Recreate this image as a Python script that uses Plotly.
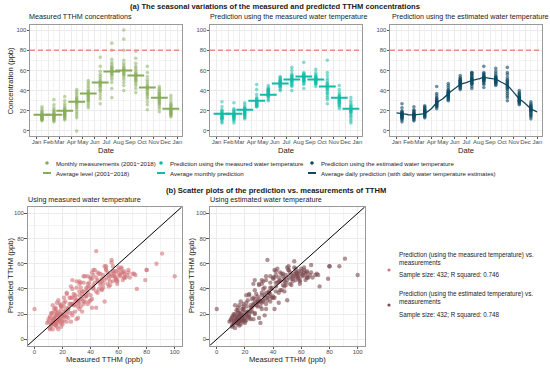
import plotly.graph_objects as go

W, H = 550, 369
FONT = "Liberation Sans, Arial, sans-serif"

MONTHS = ["Jan", "Feb", "Mar", "Apr", "May", "Jun", "Jul", "Aug", "Sep", "Oct", "Nov", "Dec"]
MID_DATES = ["2018-%02d-15" % m for m in range(1, 13)]
TICK_DATES = ["2018-%02d-01" % m for m in range(1, 13)] + ["2019-01-01"]
TICK_TEXT = MONTHS + ["Jan"]
X_DATE_RANGE = ["2017-12-15", "2019-01-12"]
LIMITS = [-5, 105]
THRESHOLD = 80

# Monthly measured TTHM (ppb), one list per month
measured = [
    [10, 11, 11, 12, 12, 13, 13, 14, 14, 15, 15, 15, 16, 16, 17, 18, 19, 20, 22, 24],
    [9, 10, 11, 12, 12, 13, 14, 14, 15, 15, 16, 16, 17, 18, 19, 20, 21, 23, 26, 31],
    [11, 12, 13, 14, 15, 15, 16, 17, 17, 18, 19, 19, 20, 21, 22, 23, 25, 27, 30, 34],
    [0, 13, 15, 17, 19, 21, 23, 24, 26, 27, 28, 29, 30, 31, 32, 33, 35, 37, 39, 41],
    [23, 25, 27, 29, 30, 31, 32, 33, 34, 35, 36, 37, 38, 39, 40, 42, 44, 46, 48, 50],
    [27, 32, 35, 38, 40, 41, 43, 44, 45, 46, 47, 48, 49, 50, 52, 54, 56, 59, 64, 73],
    [33, 42, 48, 51, 53, 55, 56, 57, 58, 59, 60, 61, 62, 63, 64, 66, 68, 71, 80, 87],
    [40, 45, 48, 51, 53, 55, 56, 57, 58, 59, 60, 61, 62, 63, 65, 67, 70, 80, 91, 100],
    [38, 42, 45, 47, 49, 50, 51, 52, 53, 54, 55, 56, 57, 58, 60, 62, 64, 67, 72, 79],
    [21, 26, 29, 32, 34, 36, 37, 38, 40, 41, 42, 43, 44, 45, 47, 49, 51, 54, 58, 64],
    [19, 22, 24, 26, 27, 28, 29, 30, 31, 32, 33, 34, 35, 36, 37, 38, 39, 41, 42, 44],
    [14, 15, 16, 17, 17, 18, 19, 19, 20, 21, 21, 22, 23, 24, 25, 26, 27, 29, 32, 35],
]
# Predictions using the measured water temperature (paired with measured)
pred_meas_temp = [
    [14, 9, 17, 12, 21, 8, 15, 13, 24, 16, 11, 19, 14, 29, 13, 16, 20, 12, 18, 17],
    [13, 16, 8, 20, 11, 15, 17, 12, 22, 14, 19, 10, 16, 28, 13, 18, 15, 21, 14, 17],
    [18, 13, 21, 16, 24, 12, 19, 22, 15, 20, 17, 26, 14, 19, 23, 18, 28, 21, 16, 22],
    [24, 27, 25, 31, 26, 29, 36, 24, 28, 33, 27, 30, 46, 26, 29, 32, 28, 41, 30, 25],
    [37, 33, 40, 35, 41, 31, 38, 41, 36, 45, 34, 39, 37, 42, 35, 43, 38, 40, 39, 30],
    [47, 44, 50, 41, 48, 53, 45, 49, 46, 52, 43, 48, 51, 47, 44, 50, 54, 46, 49, 40],
    [45, 51, 40, 55, 48, 63, 46, 52, 49, 44, 57, 50, 53, 47, 54, 51, 49, 52, 55, 60],
    [49, 53, 46, 56, 42, 52, 58, 50, 54, 47, 55, 51, 57, 53, 49, 55, 52, 55, 68, 50],
    [50, 55, 47, 52, 44, 58, 49, 53, 51, 46, 61, 50, 54, 48, 52, 56, 49, 53, 51, 47],
    [33, 42, 27, 46, 38, 50, 35, 44, 31, 48, 40, 55, 70, 37, 45, 41, 58, 43, 47, 52],
    [27, 30, 24, 33, 28, 36, 22, 31, 29, 35, 26, 32, 38, 30, 34, 28, 45, 32, 41, 25],
    [17, 12, 21, 8, 19, 15, 23, 10, 20, 26, 18, 22, 14, 25, 21, 28, 19, 33, 24, 30],
]
# Predictions using the estimated water temperature (paired with measured)
pred_est_temp = [
    [15, 11, 17, 13, 20, 9, 16, 14, 23, 16, 12, 18, 15, 27, 14, 17, 19, 13, 18, 16],
    [14, 16, 10, 19, 12, 15, 17, 13, 21, 15, 18, 11, 16, 24, 14, 17, 15, 20, 16, 13],
    [18, 14, 20, 16, 23, 13, 19, 21, 15, 19, 17, 24, 15, 20, 22, 18, 25, 21, 17, 19],
    [24, 27, 25, 30, 26, 29, 35, 22, 28, 32, 27, 30, 44, 26, 29, 31, 28, 37, 33, 24],
    [36, 32, 39, 34, 43, 30, 37, 40, 35, 47, 33, 38, 36, 41, 34, 45, 37, 39, 38, 31],
    [47, 44, 50, 41, 48, 55, 45, 49, 46, 52, 43, 48, 51, 47, 44, 50, 53, 46, 49, 42],
    [46, 51, 42, 55, 48, 57, 47, 52, 49, 44, 56, 50, 53, 47, 54, 51, 49, 52, 58, 58],
    [49, 53, 46, 55, 43, 52, 56, 50, 54, 47, 54, 51, 57, 52, 49, 53, 51, 58, 64, 51],
    [50, 54, 47, 52, 45, 57, 49, 53, 51, 46, 62, 50, 53, 48, 52, 55, 49, 59, 51, 48],
    [35, 44, 30, 47, 41, 63, 37, 45, 33, 49, 42, 56, 46, 39, 50, 43, 58, 48, 51, 53],
    [28, 31, 27, 33, 29, 36, 26, 32, 30, 35, 30, 33, 37, 31, 34, 30, 40, 33, 38, 29],
    [18, 14, 21, 12, 20, 16, 23, 15, 21, 26, 19, 22, 17, 25, 22, 27, 20, 29, 24, 24],
]
avg_measured = [16, 16, 20, 29, 37, 48, 59, 60, 55, 43, 33, 22]
avg_monthly_pred = [17, 17, 21, 30, 36, 47, 51, 54, 51, 44, 33, 22]
daily_dates = ["2018-01-01", "2018-01-10", "2018-01-20", "2018-02-01", "2018-02-15",
               "2018-03-01", "2018-03-15", "2018-04-01", "2018-04-15", "2018-05-01",
               "2018-05-15", "2018-06-01", "2018-06-15", "2018-07-01", "2018-07-15",
               "2018-08-01", "2018-08-15", "2018-09-01", "2018-09-15", "2018-10-01",
               "2018-10-15", "2018-11-01", "2018-11-15", "2018-12-01", "2018-12-15",
               "2018-12-31"]
daily_pred = [18, 17.5, 17, 16, 16, 16.5, 17.5, 22, 28, 32, 37, 42, 46, 48, 50,
              51.5, 53, 52, 51, 48, 45, 38, 32, 27, 22, 19]

GREEN = "#86AC57"
CYAN = "#10BBA8"
NAVY = "#0D4A62"
PINK = "#D0757A"
BROWN = "#7C4A50"
RED = "#F08A84"
TXT = "#1A1A1A"


def px(x):
    return x / W


def py(y):
    return 1 - y / H


def flat(groups):
    xs, ys = [], []
    for d, g in zip(MID_DATES, groups):
        xs.extend([d] * len(g))
        ys.extend(g)
    return xs, ys


mx, my = flat(measured)
_, p1 = flat(pred_meas_temp)
_, p2 = flat(pred_est_temp)

fig = go.Figure()
pt = dict(size=3.6, opacity=0.5, line=dict(width=0))
bar = dict(symbol="line-ew", size=12)

# Panel 1
fig.add_trace(go.Scatter(x=mx, y=my, mode="markers", marker=dict(color=GREEN, **pt),
                         xaxis="x", yaxis="y"))
fig.add_trace(go.Scatter(x=MID_DATES, y=avg_measured, mode="markers",
                         marker=dict(line=dict(width=2, color=GREEN), **bar),
                         xaxis="x", yaxis="y"))
# Panel 2
fig.add_trace(go.Scatter(x=mx, y=p1, mode="markers", marker=dict(color=CYAN, **pt),
                         xaxis="x2", yaxis="y2"))
fig.add_trace(go.Scatter(x=MID_DATES, y=avg_monthly_pred, mode="markers",
                         marker=dict(line=dict(width=2, color=CYAN), **bar),
                         xaxis="x2", yaxis="y2"))
# Panel 3
fig.add_trace(go.Scatter(x=mx, y=p2, mode="markers",
                         marker=dict(color=NAVY, size=3.6, opacity=0.6, line=dict(width=0)),
                         xaxis="x3", yaxis="y3"))
fig.add_trace(go.Scatter(x=daily_dates, y=daily_pred, mode="lines",
                         line=dict(color=NAVY, width=1.3, shape="spline"),
                         xaxis="x3", yaxis="y3"))
# Scatter panels
fig.add_trace(go.Scatter(x=my, y=p1, mode="markers",
                         marker=dict(color=PINK, size=4.4, opacity=0.6, line=dict(width=0)),
                         xaxis="x4", yaxis="y4"))
fig.add_trace(go.Scatter(x=my, y=p2, mode="markers",
                         marker=dict(color=BROWN, size=4.4, opacity=0.6, line=dict(width=0)),
                         xaxis="x5", yaxis="y5"))

tick_font = dict(family=FONT, size=6, color="#4D4D4D")
common = dict(showline=True, mirror=True, linecolor="#9A9A9A", linewidth=0.8,
              ticks="outside", ticklen=2.5, tickwidth=0.7, tickcolor="#555555",
              showgrid=True, gridcolor="#EBEBEB", gridwidth=0.8, zeroline=False,
              tickfont=tick_font, tickangle=0)


def date_x(domain, anchor):
    return dict(common, domain=domain, anchor=anchor, type="date", range=X_DATE_RANGE,
                autorange=False, tickmode="array", tickvals=TICK_DATES, ticktext=TICK_TEXT,
                ticklabelstandoff=-3,
                minor=dict(tickmode="array", tickvals=MID_DATES, showgrid=True,
                           gridcolor="#F4F4F4", gridwidth=0.6))


def num_ax(domain, anchor, standoff=-1):
    return dict(common, domain=domain, anchor=anchor, range=LIMITS, autorange=False,
                tickmode="linear", tick0=0, dtick=20, ticklabelstandoff=standoff,
                minor=dict(tick0=0, dtick=10, showgrid=True, gridcolor="#F4F4F4",
                           gridwidth=0.6))


top_y = [py(136), py(25)]
bot_y = [py(345.6), py(207)]
layout_axes = dict(
    xaxis=date_x([px(30), px(181.7)], "y"),
    yaxis=num_ax(top_y, "x"),
    xaxis2=date_x([px(210), px(361.7)], "y2"),
    yaxis2=num_ax(top_y, "x2"),
    xaxis3=date_x([px(390), px(541.7)], "y3"),
    yaxis3=num_ax(top_y, "x3"),
    xaxis4=num_ax([px(27.5), px(181.7)], "y4", standoff=-2),
    yaxis4=num_ax(bot_y, "x4"),
    xaxis5=num_ax([px(209.7), px(364.7)], "y5", standoff=-2),
    yaxis5=num_ax(bot_y, "x5"),
)

shapes = []
for xa, ya in [("x", "y"), ("x2", "y2"), ("x3", "y3")]:
    shapes.append(dict(type="line", xref=xa + " domain", yref=ya, x0=0, x1=1,
                       y0=THRESHOLD, y1=THRESHOLD,
                       line=dict(color=RED, width=1.5, dash="5px,3px")))
for xa, ya in [("x4", "y4"), ("x5", "y5")]:
    shapes.append(dict(type="line", xref=xa, yref=ya, x0=LIMITS[0], y0=LIMITS[0],
                       x1=LIMITS[1], y1=LIMITS[1], line=dict(color="black", width=1)))

annotations = []


def ann(text, x, y, size, xanchor="left", bold=False, angle=0, color=TXT):
    if bold:
        text = "<b>" + text + "</b>"
    annotations.append(dict(text=text, x=px(x), y=py(y), xref="paper", yref="paper",
                            xanchor=xanchor, yanchor="middle", showarrow=False,
                            textangle=angle, borderpad=0,
                            font=dict(family=FONT, size=size, color=color)))


def dot(cx, cy, r, color):
    shapes.append(dict(type="circle", xref="paper", yref="paper", x0=px(cx - r),
                       x1=px(cx + r), y0=py(cy + r), y1=py(cy - r),
                       fillcolor=color, line=dict(width=0)))


def seg(x0, x1, y, color):
    shapes.append(dict(type="line", xref="paper", yref="paper", x0=px(x0), x1=px(x1),
                       y0=py(y), y1=py(y), line=dict(color=color, width=2)))


# titles
ann("(a) The seasonal variations of the measured and predicted TTHM concentrations",
    275, 7, 7.6, xanchor="center", bold=True)
ann("(b) Scatter plots of the prediction vs. measurements of TTHM",
    276, 190, 7.6, xanchor="center", bold=True)
ann("Measured TTHM concentrations", 28, 16.5, 7.2)
ann("Prediction using the measured water temperature", 209, 16.5, 7.2)
ann("Prediction using the estimated water temperature", 391, 16.5, 7.2)
ann("Using measured water temperature", 27, 200, 7.2)
ann("Using estimated water temperature", 209, 200, 7.2)
# axis titles
ann("Concentration (ppb)", 10, 80.5, 7.6, xanchor="center", angle=-90)
for cx in (105.8, 285.8, 465.8):
    ann("Date", cx, 150, 7.6, xanchor="center")
ann("Predicted TTHM (ppb)", 10, 276, 7.6, xanchor="center", angle=-90)
ann("Predicted TTHM (ppb)", 191, 276, 7.6, xanchor="center", angle=-90)
ann("Measured TTHM (ppb)", 104.6, 359, 7.6, xanchor="center")
ann("Measured TTHM (ppb)", 287.2, 359, 7.6, xanchor="center")

# top legend
LEG = 6.1
dot(47, 163, 1.8, GREEN)
ann("Monthly measurements (2001\u22122018)", 55, 163, LEG)
dot(161, 163, 1.8, CYAN)
ann("Prediction using the measured water temperature", 168.5, 163, LEG)
dot(312, 163, 1.8, NAVY)
ann("Prediction using the estimated water temperature", 320, 163, LEG)
seg(43, 51, 173, GREEN)
ann("Average level (2001\u22122018)", 55, 173, LEG)
seg(157, 165, 173, CYAN)
ann("Average monthly prediction", 168.5, 173, LEG)
seg(308, 316, 173, NAVY)
ann("Average daily prediction (with daily water temperature estimates)", 320, 173, LEG)

# scatter legend
LEG2 = 6.3
dot(389, 270, 1.6, PINK)
ann("Prediction (using the measured temperature) vs.", 398, 255, LEG2)
ann("measurements", 398, 262, LEG2)
ann("Sample size: 432; R squared: 0.746", 398, 275, LEG2)
dot(389, 305, 1.6, BROWN)
ann("Prediction (using the estimated temperature) vs.", 398, 294, LEG2)
ann("measurements", 398, 301, LEG2)
ann("Sample size: 432; R squared: 0.748", 398, 315, LEG2)

fig.update_layout(
    width=W, height=H, margin=dict(l=0, r=0, t=0, b=0),
    paper_bgcolor="white", plot_bgcolor="white", showlegend=False,
    shapes=shapes, annotations=annotations, font=dict(family=FONT),
    **layout_axes,
)

fig.write_html("out.html", config={"displayModeBar": False},
               post_script="document.body.style.margin='0px';document.body.style.overflow='hidden';")
